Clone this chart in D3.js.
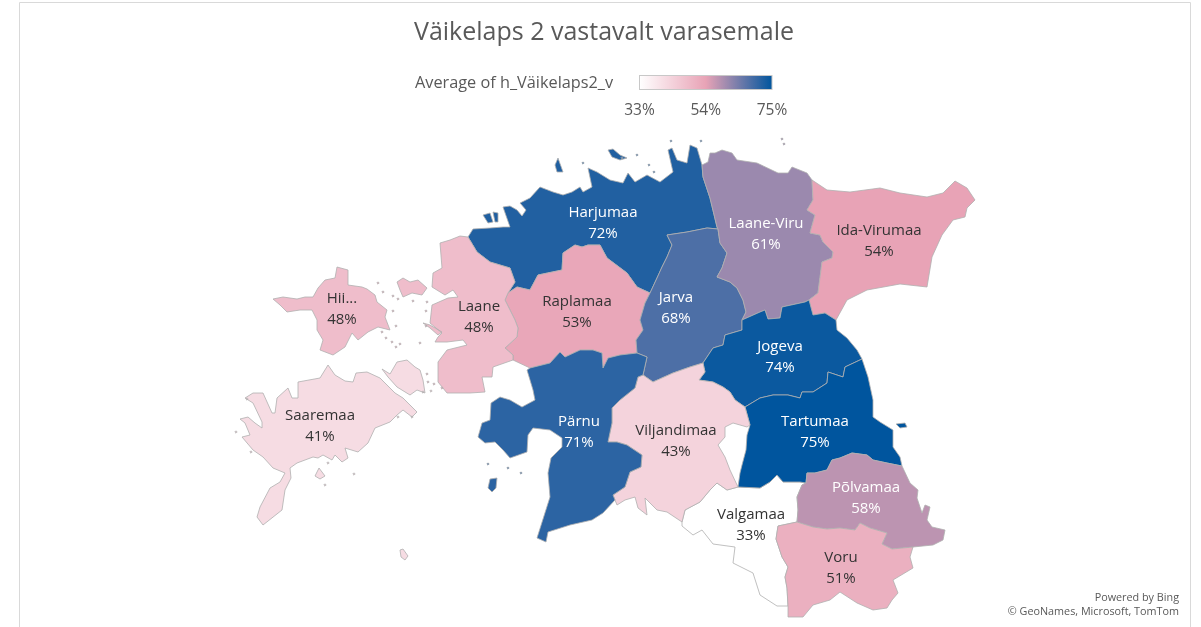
<!DOCTYPE html>
<html>
<head>
<meta charset="utf-8">
<script src="https://cdn.jsdelivr.net/npm/d3@7"></script>
<style>
  html, body { margin: 0; padding: 0; background: #fff; }
  svg { display: block; font-family: "Open Sans", "Noto Sans", sans-serif; filter: blur(0.35px); }
</style>
</head>
<body>
<div id="chart"></div>
<script>
const regions = ["Valgamaa", "Harjumaa", "Raplamaa", "Laane", "Jarva", "Laane-Viru", "Ida-Virumaa", "Jogeva", "Tartumaa", "Viljandimaa", "Pärnu", "Põlvamaa", "Voru", "Hiiumaa", "Saaremaa"];
const labels = ["Valgamaa", "Harjumaa", "Raplamaa", "Laane", "Jarva", "Laane-Viru", "Ida-Virumaa", "Jogeva", "Tartumaa", "Viljandimaa", "Pärnu", "Põlvamaa", "Voru", "Hii...", "Saaremaa"];
const values = [33, 72, 53, 48, 68, 61, 54, 74, 75, 43, 71, 58, 51, 48, 41];
const legendTicks = [33, 54, 75];
const legendColors = ["#ffffff", "#e8a3b6", "#00559e"];

// map outline (map units), borders kept as shared arcs
const harjuCoast = [[468,237],[473,229],[490,228],[503,227],[510,227],[503,207],[510,206],[517,210],[522,216],[526,210],[520,203],[530,198],[540,187],[553,192],[563,195],[572,192],[580,187],[583,192],[592,187],[588,168],[597,172],[610,180],[623,183],[628,173],[635,182],[647,175],[660,182],[673,172],[668,150],[672,148],[677,160],[687,163],[690,145],[697,148],[702,165]];
const harjuViru = [[702,165],[703,177],[710,198],[717,227],[718,229]];
const harjuJarva = [[718,229],[707,228],[687,232],[667,235],[672,245],[667,257],[662,267],[657,278],[650,293]];
const harjuRapla = [[650,293],[637,287],[627,273],[607,258],[600,245],[588,245],[582,247],[575,245],[563,253],[562,270],[538,275],[530,290],[517,287],[508,293]];
const harjuLaane = [[508,293],[515,282],[510,268],[490,262],[477,252],[468,237]];
const raplaJarva = [[650,293],[645,303],[640,320],[643,330],[636,340],[637,353]];
const parnuRapla = [[530,368],[550,363],[560,352],[565,357],[580,350],[593,350],[602,353],[603,368],[608,358],[620,355],[637,353]];
const raplaLaane = [[508,293],[505,300],[510,310],[515,320],[518,328],[517,337],[505,348],[513,355],[513,360]];
const laaneCoast = [[513,360],[493,367],[492,377],[482,377],[485,392],[470,393],[447,393],[438,382],[438,362],[447,350],[467,345],[463,340],[447,342],[435,342],[438,337],[442,333],[430,323],[432,305],[448,298],[458,297],[453,290],[445,295],[432,287],[433,273],[442,268],[440,243],[450,240],[460,236],[468,237]];
const jarvaViru = [[718,229],[720,243],[727,253],[722,268],[717,277],[730,282],[737,288],[743,300],[746,312],[742,320]];
const jarvaJogeva = [[742,320],[742,330],[725,335],[723,345],[713,348],[703,363]];
const jarvaViljandi = [[703,363],[690,367],[673,373],[653,382],[643,375]];
const parnuJarva = [[637,353],[647,357],[643,375]];
const viruCoast = [[702,165],[708,162],[710,153],[715,153],[722,150],[732,153],[737,160],[757,163],[778,173],[788,173],[792,167],[807,173],[812,180]];
const viruIda = [[812,180],[813,200],[807,210],[815,215],[810,233],[820,235],[823,242],[833,252],[832,258],[822,262],[818,293],[809,300]];
const viruJogeva = [[742,320],[760,312],[765,310],[768,319],[780,318],[782,307],[805,302],[809,300]];
const idaCoast = [[812,180],[827,190],[850,192],[880,188],[900,193],[927,197],[943,193],[955,181],[967,188],[975,200],[967,208],[965,217],[953,220],[942,235],[932,257],[927,287],[900,284],[867,290],[847,300],[836,320]];
const idaJogeva = [[809,300],[813,315],[825,313],[836,320]];
const jogevaCoast = [[836,320],[837,330],[847,338],[857,350],[862,359]];
const jogevaTartu = [[745,407],[760,398],[773,395],[788,395],[800,398],[802,392],[813,392],[827,383],[828,372],[843,377],[845,367],[862,359]];
const jogevaViljandi = [[703,363],[705,372],[699,380],[713,382],[723,387],[730,392],[735,400],[745,407]];
const tartuCoast = [[862,359],[868,377],[873,400],[873,417],[880,422],[893,430],[893,447],[900,457],[902,466]];
const tartuPolva = [[902,466],[887,463],[873,460],[867,455],[852,453],[840,458],[832,460],[827,470],[815,473],[807,473],[806,483]];
const tartuValga = [[806,483],[800,482],[783,482],[777,475],[770,482],[760,488],[738,487]];
const tartuLake = [[738,487],[740,473],[742,465],[746,450],[747,435],[750,425],[745,407]];
const viljLake = [[745,407],[750,425],[747,427],[733,423],[725,427],[725,437],[718,445],[725,457],[730,470],[738,487]];
const viljValga = [[738,487],[727,490],[717,483],[710,490],[700,502],[685,510],[682,522]];
const viljCoast = [[682,522],[667,512],[657,510],[645,498],[647,515],[638,508],[635,497],[625,500],[617,505],[615,500]];
const parnuViljandi = [[615,500],[613,495],[625,487],[630,472],[641,467],[642,455],[627,445],[617,442],[608,442],[612,423],[612,408],[620,400],[635,388],[638,377],[643,375]];
const parnuCoast = [[615,500],[603,513],[592,520],[570,525],[548,532],[546,542],[537,538],[550,497],[548,473],[551,458],[562,447],[562,438],[550,430],[533,428],[528,435],[527,452],[510,458],[503,450],[495,442],[485,443],[478,437],[482,423],[490,420],[491,403],[500,397],[510,400],[522,407],[535,400],[533,390],[527,370],[530,368]];
const polvaEast = [[902,466],[910,483],[918,490],[917,498],[922,513],[925,505],[930,507],[927,520],[932,527],[945,530],[943,540],[933,545],[913,547]];
const polvaVoru = [[913,547],[892,549],[882,544],[887,533],[870,528],[860,523],[855,530],[840,528],[827,529],[813,527],[797,522]];
const polvaValga = [[797,522],[798,510],[797,497],[802,485],[806,483]];
const voruSouth = [[913,547],[910,557],[913,568],[893,580],[898,593],[892,600],[887,608],[873,610],[857,603],[840,592],[830,600],[813,605],[803,617],[788,617],[788,606]];
const voruValga = [[797,522],[778,526],[776,539],[782,557],[788,567],[785,577],[787,588],[788,606]];
const valgaBorder = [[788,606],[777,606],[760,595],[753,573],[733,563],[735,547],[713,544],[702,530],[693,535],[682,526],[682,522]];
const hiiumaaRing = [[273,299],[283,297],[297,299],[305,297],[313,297],[318,288],[325,280],[335,278],[337,267],[348,270],[348,285],[362,287],[367,289],[375,295],[377,302],[387,310],[385,317],[390,330],[378,327],[368,332],[358,340],[352,333],[345,347],[333,355],[320,350],[323,340],[317,330],[317,320],[312,310],[300,310],[287,312],[280,305]];
const saaremaaRing = [[328,365],[335,375],[345,381],[353,382],[356,373],[367,372],[380,378],[395,393],[403,398],[417,412],[412,417],[403,410],[397,415],[390,422],[375,428],[368,443],[358,452],[345,448],[348,458],[342,462],[335,455],[332,460],[323,455],[318,458],[313,457],[297,463],[290,468],[291,478],[285,490],[282,510],[263,525],[257,517],[260,507],[270,488],[280,482],[285,473],[273,468],[263,457],[253,450],[242,437],[250,435],[245,423],[240,419],[248,417],[255,423],[262,428],[262,422],[253,403],[245,398],[253,393],[263,393],[272,413],[275,413],[277,398],[288,388],[292,398],[298,398],[298,382],[320,378]];
const muhuRing = [[382,369],[390,374],[397,362],[407,360],[415,367],[420,370],[423,380],[425,393],[417,390],[410,395],[397,387],[388,377]];
const vormsiRing = [[397,282],[403,278],[410,282],[418,280],[427,288],[422,295],[412,293],[403,297],[400,290]];
const kihnuRing = [[490,479],[497,478],[496,488],[492,492],[488,488]];
const naissaarRing = [[555,165],[558,158],[563,172],[557,172]];
const pakriRings = [[[483,215],[490,213],[493,222],[488,223]], [[493,212],[498,213],[498,222],[495,222]]];
const prangliRing = [[608,150],[613,149],[620,155],[627,158],[620,160],[612,157]];
const ruhnuRing = [[400,550],[403,549],[408,556],[405,560],[401,557]];
const abrukaRing = [[315,476],[319,468],[325,476],[320,479]];
const piirissaarRing = [[896,424],[905,423],[907,427],[900,428]];
const laaneStrip = [[423,323],[430,325],[442,332],[438,335],[430,328]];

const laaneIslets = [[378,283],[383,292],[393,296],[398,299],[393,311],[426,311],[427,302],[413,301],[426,326],[427,374],[428,382],[420,343],[434,384],[442,388]];
const hiiuIslets = [[396,326],[382,332],[386,338],[392,342],[396,347],[400,344]];
const harjuIslets = [[583,163],[622,158],[637,155],[649,165],[654,172],[671,141],[701,141]];
const viruIslets = [[782,139],[784,144]];
const saareIslets = [[247,399],[236,432],[251,452],[328,463],[325,485],[354,474],[398,417],[412,417],[423,392],[431,391]];
const parnuIslets = [[508,468],[521,473],[488,464]];

const labelSpots = [[751,524], [603,222], [577,311], [479,316], [676,307], [766,233], [879,240], [780,356], [815,431], [676,440], [579,431], [866,497], [841,567], [342,308], [320,425]];

function rev(arc) { return arc.slice().reverse(); }
function ring(...arcs) {
    const pts = arcs.flat();
    pts.push(pts[0]);
    return pts;
}
function closed(pts) { return pts.concat([pts[0]]); }
function dot(p, r) {
    return [[p[0] - r, p[1]], [p[0], p[1] - r], [p[0] + r, p[1]], [p[0], p[1] + r], [p[0] - r, p[1]]];
}
function shapes(main, extra, islets) {
    const polys = [[main]];
    extra.forEach(e => polys.push([closed(e)]));
    islets.forEach(p => polys.push([dot(p, 1.2)]));
    return {type: "MultiPolygon", coordinates: polys};
}

const geometries = [
    shapes(ring(rev(tartuValga), rev(polvaValga), voruValga, valgaBorder, rev(viljValga)), [], []),
    shapes(ring(harjuCoast, harjuViru, harjuJarva, harjuRapla, harjuLaane), [naissaarRing, prangliRing, ...pakriRings], harjuIslets),
    shapes(ring(rev(harjuRapla), raplaJarva, rev(parnuRapla), rev(raplaLaane)), [], []),
    shapes(ring(rev(harjuLaane), raplaLaane, laaneCoast), [vormsiRing, laaneStrip], laaneIslets),
    shapes(ring(rev(harjuJarva), jarvaViru, jarvaJogeva, jarvaViljandi, rev(parnuJarva), rev(raplaJarva)), [], []),
    shapes(ring(viruCoast, viruIda, rev(viruJogeva), rev(jarvaViru), rev(harjuViru)), [], viruIslets),
    shapes(ring(idaCoast, rev(idaJogeva), rev(viruIda)), [], []),
    shapes(ring(viruJogeva, idaJogeva, jogevaCoast, rev(jogevaTartu), rev(jogevaViljandi), rev(jarvaJogeva)), [], []),
    shapes(ring(jogevaTartu, tartuCoast, tartuPolva, tartuValga, tartuLake), [piirissaarRing], []),
    shapes(ring(rev(jarvaViljandi), jogevaViljandi, viljLake, viljValga, viljCoast, parnuViljandi), [], []),
    shapes(ring(parnuRapla, parnuJarva, rev(parnuViljandi), parnuCoast), [kihnuRing], parnuIslets),
    shapes(ring(rev(tartuPolva), polvaEast, polvaVoru, polvaValga), [], []),
    shapes(ring(rev(polvaVoru), voruSouth, rev(voruValga)), [], []),
    shapes(closed(hiiumaaRing), [], hiiuIslets),
    shapes(closed(saaremaaRing), [muhuRing, ruhnuRing, abrukaRing], saareIslets)
];

const width = 1201, height = 627;

const svg = d3.select("#chart")
    .append("svg")
    .attr("width", width)
    .attr("height", height);

const color = d3.scaleLinear()
    .domain(legendTicks)
    .range(legendColors);

const projection = d3.geoIdentity().scale(1).translate([0, 0]);
const path = d3.geoPath(projection);

// frame of the visual
svg.append("path")
    .attr("d", "M19.5,627V2.5H1190.5V627")
    .attr("fill", "none")
    .attr("stroke", "#d9d9d9")
    .attr("stroke-width", 1);

svg.append("text")
    .attr("x", 604)
    .attr("y", 40)
    .attr("text-anchor", "middle")
    .attr("font-size", 25)
    .attr("fill", "#595959")
    .text("Väikelaps 2 vastavalt varasemale");

// legend
const defs = svg.append("defs");
const gradient = defs.append("linearGradient").attr("id", "legendGradient");
legendTicks.forEach((t, i) => {
    gradient.append("stop")
        .attr("offset", (i / (legendTicks.length - 1) * 100) + "%")
        .attr("stop-color", color(t));
});

const legendX = d3.scaleLinear()
    .domain([legendTicks[0], legendTicks[2]])
    .range([639.5, 772]);

svg.append("rect")
    .attr("x", legendX.range()[0])
    .attr("y", 75.5)
    .attr("width", legendX.range()[1] - legendX.range()[0])
    .attr("height", 14)
    .attr("fill", "url(#legendGradient)")
    .attr("stroke", "#c8c8c8");

svg.append("text")
    .attr("x", 415)
    .attr("y", 88)
    .attr("font-size", 16.3)
    .attr("fill", "#595959")
    .text("Average of h_Väikelaps2_v");

svg.selectAll(".legend-tick")
    .data(legendTicks)
    .join("text")
    .attr("class", "legend-tick")
    .attr("x", d => legendX(d))
    .attr("y", 115)
    .attr("text-anchor", "middle")
    .attr("font-size", 15.5)
    .attr("fill", "#595959")
    .text(d => d + "%");

// regions
svg.append("g")
    .selectAll("path")
    .data(regions)
    .join("path")
    .attr("d", (d, i) => path(geometries[i]))
    .attr("fill", (d, i) => color(values[i]))
    .attr("stroke", "#b0b0b0")
    .attr("stroke-width", 0.8)
    .attr("stroke-linejoin", "round");

// data labels
const labelG = svg.append("g")
    .selectAll("g")
    .data(regions)
    .join("g")
    .attr("transform", (d, i) => "translate(" + projection(labelSpots[i]) + ")")
    .attr("fill", (d, i) => values[i] >= 58 ? "#ffffff" : "#333333")
    .attr("font-size", 15)
    .attr("text-anchor", "middle");

labelG.append("text")
    .attr("y", -5)
    .text((d, i) => labels[i]);

labelG.append("text")
    .attr("y", 16)
    .text((d, i) => values[i] + "%");

// attribution
["Powered by Bing", "© GeoNames, Microsoft, TomTom"].forEach((t, i) => {
    svg.append("text")
        .attr("x", 1179)
        .attr("y", 601 + i * 14)
        .attr("text-anchor", "end")
        .attr("font-size", 10.8)
        .attr("fill", "#595959")
        .text(t);
});
</script>
</body>
</html>
